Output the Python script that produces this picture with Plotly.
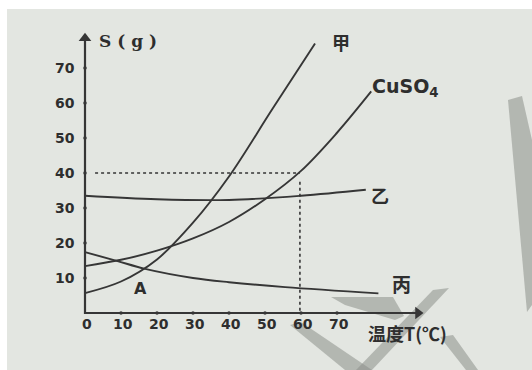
import plotly.graph_objects as go

# ---- data ----
T_jia = [0, 10, 20, 30, 40, 52, 63.9]
S_jia = [5.7, 9, 15.3, 25.8, 39, 58.2, 77]

T_cuso4 = [0, 10, 20, 30, 40, 50, 60, 70, 79.5]
S_cuso4 = [13.4, 15.2, 17.8, 21.3, 26, 32.5, 40.6, 51.5, 63.3]

T_yi = [0, 20, 40, 60, 78]
S_yi = [33.5, 32.5, 32.3, 33.5, 35.2]

T_bing = [0, 8.8, 16.7, 30, 40, 55.6, 81.5]
S_bing = [17.4, 14.9, 12.6, 10, 8.8, 7.4, 5.6]

x_ticks = [0, 10, 20, 30, 40, 50, 60, 70]
y_ticks = [10, 20, 30, 40, 50, 60, 70]

ref_T = 59.7
ref_S = 40

LINE = "#363636"
TEXT = "#2e2e2e"
BG = "#e3e6e1"
WM = "rgba(140,143,139,0.55)"

# pixel mapping: x_px = 85 + 3.6*T ; y_px = 313 - 3.5*S
W, H = 532, 370
xr = [(0 - 85) / 3.6, (W - 85) / 3.6]
yr = [(313 - H) / 3.5, (313 - 0) / 3.5]

fig = go.Figure()

def curve(T, S):
    fig.add_trace(go.Scatter(x=T, y=S, mode="lines",
                             line=dict(color=LINE, width=1.9, shape="spline", smoothing=1.0),
                             hoverinfo="skip", showlegend=False))

curve(T_jia, S_jia)
curve(T_cuso4, S_cuso4)
curve(T_yi, S_yi)
curve(T_bing, S_bing)

# dotted reference lines
fig.add_trace(go.Scatter(x=[2.8, ref_T], y=[ref_S, ref_S], mode="lines",
                         line=dict(color=LINE, width=1.6, dash="dot"),
                         hoverinfo="skip", showlegend=False))
fig.add_trace(go.Scatter(x=[ref_T, ref_T], y=[ref_S - 2.5, 0], mode="lines",
                         line=dict(color=LINE, width=1.6, dash="dot"),
                         hoverinfo="skip", showlegend=False))

# axes lines
fig.add_trace(go.Scatter(x=[0, 0, 92], y=[78, 0, 0], mode="lines",
                         line=dict(color=LINE, width=2.2),
                         hoverinfo="skip", showlegend=False))
# arrowheads
fig.add_trace(go.Scatter(x=[0], y=[78.5], mode="markers",
                         marker=dict(symbol="triangle-up", size=11, color=LINE),
                         hoverinfo="skip", showlegend=False))
fig.add_trace(go.Scatter(x=[92.5], y=[0], mode="markers",
                         marker=dict(symbol="triangle-right", size=11, color=LINE),
                         hoverinfo="skip", showlegend=False))
# tick dots
fig.add_trace(go.Scatter(x=x_ticks[1:], y=[0] * (len(x_ticks) - 1), mode="markers",
                         marker=dict(symbol="circle", size=3.5, color=LINE),
                         hoverinfo="skip", showlegend=False))
fig.add_trace(go.Scatter(x=[0] * len(y_ticks), y=y_ticks, mode="markers",
                         marker=dict(symbol="circle", size=3.5, color=LINE),
                         hoverinfo="skip", showlegend=False))

# tick labels
num_font = dict(family="DejaVu Sans", size=14, color=TEXT)
for t in x_ticks:
    fig.add_annotation(x=t + 0.6, y=-3.1, text=f"<b>{t}</b>", showarrow=False,
                       font=num_font, xanchor="center", yanchor="middle")
for s in y_ticks:
    fig.add_annotation(x=-2.2, y=s, text=f"<b>{s}</b>", showarrow=False,
                       font=num_font, xanchor="right", yanchor="middle")

cjk = "Noto Sans CJK SC"
fig.add_annotation(x=3.3, y=77.6, text="<b>S ( g )</b>", showarrow=False,
                   font=dict(family="DejaVu Serif", size=17, color=TEXT),
                   xanchor="left", yanchor="middle")
fig.add_annotation(x=71, y=77.3, text="<b>甲</b>", showarrow=False,
                   font=dict(family=cjk, size=18, color=TEXT), xanchor="center", yanchor="middle")
fig.add_annotation(x=79.2, y=64.3, text="<b>CuSO<sub>4</sub></b>", showarrow=False,
                   font=dict(family="DejaVu Sans", size=19, color=TEXT), xanchor="left", yanchor="middle")
fig.add_annotation(x=82, y=33.7, text="<b>乙</b>", showarrow=False,
                   font=dict(family=cjk, size=18, color=TEXT), xanchor="center", yanchor="middle")
fig.add_annotation(x=88, y=8.3, text="<b>丙</b>", showarrow=False,
                   font=dict(family=cjk, size=19, color=TEXT), xanchor="center", yanchor="middle")
fig.add_annotation(x=15.3, y=6.9, text="<b>A</b>", showarrow=False,
                   font=dict(family="DejaVu Sans", size=16, color=TEXT), xanchor="center", yanchor="middle")
fig.add_annotation(x=78.0, y=-5.8, text="<b>温度T(℃)</b>", showarrow=False,
                   font=dict(family=cjk, size=18, color=TEXT), xanchor="left", yanchor="middle")

# paper background (scan)
fig.add_shape(type="rect", xref="paper", yref="paper", x0=7 / W, x1=1, y0=0, y1=1 - 9 / H,
              fillcolor=BG, line=dict(width=0), layer="below")

# watermark strokes (pixel polygons converted to paper fractions)
def poly(pts):
    path = "M " + " L ".join(f"{x / W:.4f},{1 - y / H:.4f}" for x, y in pts) + " Z"
    fig.add_shape(type="path", xref="paper", yref="paper", path=path,
                  fillcolor=WM, line=dict(width=0), layer="below")

poly([(290, 325), (301, 322), (372, 370), (345, 370)])
poly([(433, 290), (449, 288), (372, 370), (356, 370)])
poly([(331, 297), (393, 297), (404, 316), (395, 320), (345, 305)])
poly([(440, 337), (453, 335), (478, 370), (466, 370)])
poly([(508, 100), (522, 96), (532, 140), (532, 305), (527, 312)])

fig.update_layout(
    width=W, height=H,
    margin=dict(l=0, r=0, t=0, b=0),
    paper_bgcolor="white", plot_bgcolor="rgba(0,0,0,0)",
    xaxis=dict(range=xr, visible=False, fixedrange=True),
    yaxis=dict(range=yr, visible=False, fixedrange=True),
    showlegend=False,
)

fig.write_html("out.html", config={"displayModeBar": False},
               post_script="document.body.style.margin='0';document.body.style.overflow='hidden';")
